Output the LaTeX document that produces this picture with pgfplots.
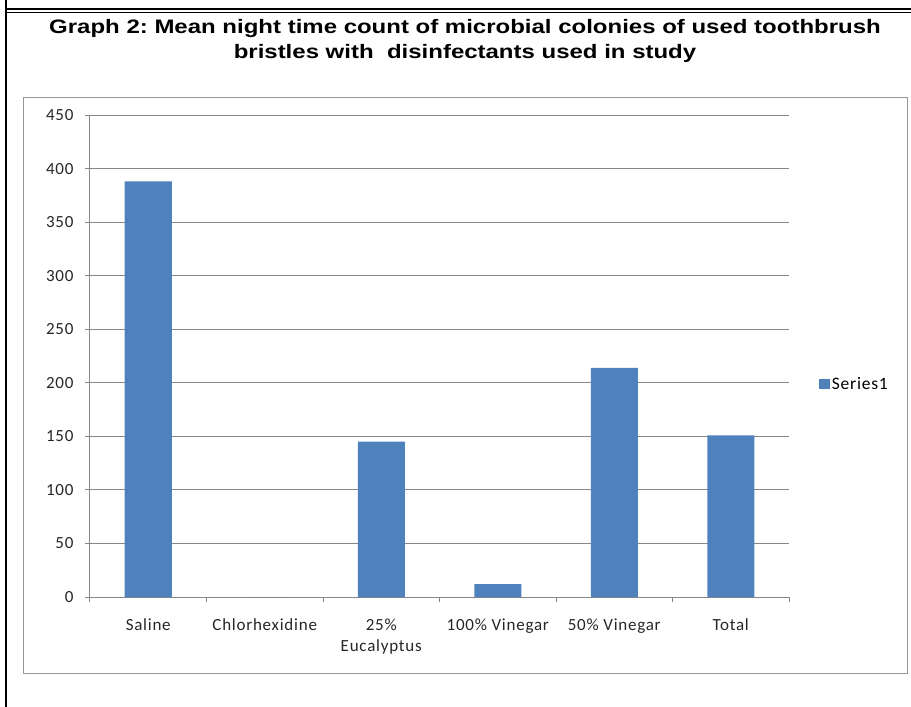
\documentclass[border=0pt]{standalone}
\usepackage{pgfplots}
\pgfplotsset{compat=1.18}
\usepackage{fontspec}
\setmainfont{Carlito}[LetterSpace=4.5]
\newfontfamily\titlefont{Liberation Sans}
\definecolor{barblue}{RGB}{79,129,189}
\definecolor{axisgray}{RGB}{134,134,134}
\definecolor{boxgray}{RGB}{150,150,150}
\frenchspacing
\begin{document}
\begin{tikzpicture}
\path[use as bounding box] (0pt,0pt) rectangle (911pt,-707pt);
% frame lines
\draw[black, line width=2.3pt] (6.2pt,0pt) -- (6.2pt,-707pt);
\draw[black, line width=1.7pt] (7pt,-9.2pt) -- (911pt,-9.2pt);
\draw[black, line width=1.7pt] (7pt,-12.5pt) -- (911pt,-12.5pt);
% chart area box
\draw[boxgray, line width=1pt] (23pt,-97pt) rectangle (907pt,-673pt);
% title
\node[anchor=base, xscale=1.23, font=\titlefont\bfseries\fontsize{19.5}{23}\selectfont] at (465pt,-33pt) {Graph 2: Mean night time count of microbial colonies of used toothbrush};
\node[anchor=base, xscale=1.23, font=\titlefont\bfseries\fontsize{19.5}{23}\selectfont] at (465pt,-58pt) {bristles with\ \ disinfectants used in study};
\begin{axis}[
  at={(90pt,-597pt)}, anchor=south west,
  scale only axis, width=699pt, height=482pt,
  xmin=-0.5, xmax=5.5, ymin=0, ymax=450,
  axis lines*=left,
  axis line style={axisgray, line width=1pt},
  ymajorgrids, grid style={axisgray, line width=0.8pt},
  ytick={0,50,...,450},
  xtick={0,...,5},
  xticklabels={Saline,Chlorhexidine,{25\%\\Eucalyptus},100\% Vinegar,50\% Vinegar,Total},
  minor xtick={-0.5,0.5,...,5.5},
  major x tick style={draw=none},
  minor x tick style={axisgray, line width=1pt},
  y tick style={axisgray, line width=1pt},
  tick align=outside, major tick length=5pt, minor tick length=5pt,
  /pgf/number format/assume math mode=true,
  ticklabel style={font=\fontsize{17}{21}\selectfont, text=black!85},
  xticklabel style={align=center, yshift=-13pt},
  yticklabel style={xshift=-8pt},
  legend style={at={(1.043,0.442)}, anchor=west, draw=none, fill=none,
    font=\fontsize{17.5}{21}\selectfont, inner sep=0pt},
  legend image code/.code={\fill[barblue] (0pt,-5.3pt) rectangle (10.6pt,5.3pt);},
]
\addplot[ybar, bar width=47pt, fill=barblue, draw=none, bar shift=0pt]
  coordinates {(0,388) (1,0) (2,145) (3,12) (4,214) (5,151)};
\addlegendentry{Series1}
\end{axis}
\end{tikzpicture}
\end{document}
